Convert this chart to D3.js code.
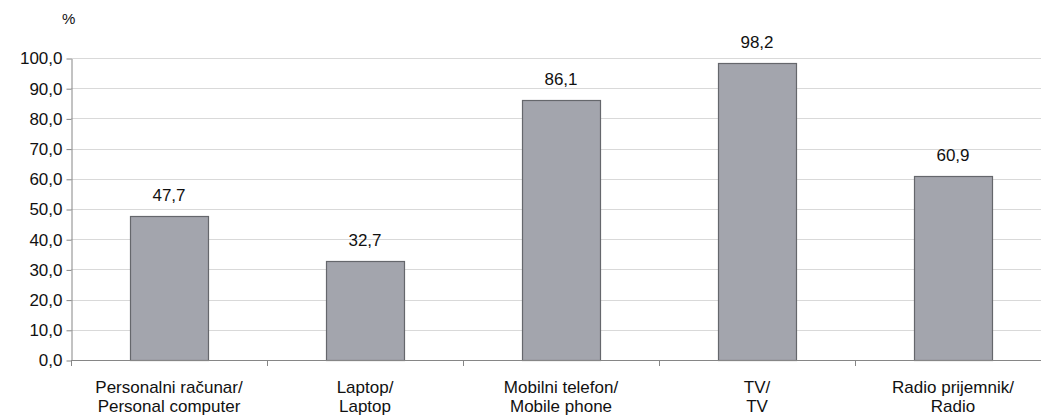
<!DOCTYPE html>
<html>
<head>
<meta charset="utf-8">
<script src="https://cdn.jsdelivr.net/npm/d3@7"></script>
<style>
  body { margin: 0; background: #fff; }
  text { font-family: "Liberation Sans", Arial, sans-serif; fill: #111; }
</style>
</head>
<body>
<div id="chart"></div>
<script>
  // categories (two lines each) and values, in %
  var categories = [
    ["Personalni računar/", "Personal computer"],
    ["Laptop/", "Laptop"],
    ["Mobilni telefon/", "Mobile phone"],
    ["TV/", "TV"],
    ["Radio prijemnik/", "Radio"]
  ];
  var values = [47.7, 32.7, 86.1, 98.2, 60.9];
  var yTicks = [0, 10, 20, 30, 40, 50, 60, 70, 80, 90, 100];

  var width = 1041, height = 420;
  var padLeft = 71, padTop = 58, baseY = 360;
  var band = 196;

  var fmt = function(v) { return v.toFixed(1).replace(".", ","); };

  var svg = d3.select("#chart").append("svg")
              .attr("width", width)
              .attr("height", height);

  var x = d3.scaleBand()
            .domain(d3.range(categories.length))
            .range([padLeft, padLeft + band * categories.length])
            .paddingInner(0.6)
            .paddingOuter(0.3);

  var y = d3.scaleLinear().domain([0, 100]).range([baseY, padTop]);

  // gridlines
  svg.append("g").selectAll("line")
     .data(yTicks.filter(function(d) { return d > 0; }))
     .enter().append("line")
     .attr("x1", padLeft).attr("x2", width)
     .attr("y1", function(d) { return Math.round(y(d)) + 0.5; })
     .attr("y2", function(d) { return Math.round(y(d)) + 0.5; })
     .attr("stroke", "#d9d9d9")
     .attr("stroke-width", 1);

  // y axis
  var yAxis = svg.append("g")
                 .attr("transform", "translate(" + (padLeft + 0.5) + ",0.5)")
                 .call(d3.axisLeft(y).tickValues(yTicks).tickFormat(fmt).tickSizeInner(5).tickSizeOuter(0));
  yAxis.select(".domain").attr("stroke", "#868686");
  yAxis.selectAll(".tick line").attr("stroke", "#868686");
  yAxis.selectAll(".tick text").attr("x", -9).attr("font-size", "17px")
       .attr("font-family", "Liberation Sans, Arial, sans-serif").attr("fill", "#111");

  // bars
  svg.append("g").selectAll("rect")
     .data(values)
     .enter().append("rect")
     .attr("x", function(d, i) { return Math.round(x(i)) + 0.5; })
     .attr("y", function(d) { return Math.round(y(d)) + 0.5; })
     .attr("width", Math.round(x.bandwidth()))
     .attr("height", function(d) { return baseY - Math.round(y(d)); })
     .attr("fill", "#a3a5ad")
     .attr("stroke", "#65676c")
     .attr("stroke-width", 1.2);

  // value labels
  svg.append("g").selectAll("text")
     .data(values)
     .enter().append("text")
     .attr("x", function(d, i) { return x(i) + x.bandwidth() / 2; })
     .attr("y", function(d) { return y(d) - 15; })
     .attr("text-anchor", "middle")
     .attr("font-size", "17px")
     .text(fmt);

  // x axis
  var xAxisLine = svg.append("g");
  xAxisLine.append("line")
     .attr("x1", padLeft).attr("x2", width)
     .attr("y1", baseY + 0.5).attr("y2", baseY + 0.5)
     .attr("stroke", "#868686");
  xAxisLine.selectAll(".xt")
     .data(d3.range(categories.length + 1))
     .enter().append("line")
     .attr("class", "xt")
     .attr("x1", function(i) { return padLeft + band * i + 0.5; })
     .attr("x2", function(i) { return padLeft + band * i + 0.5; })
     .attr("y1", baseY).attr("y2", baseY + 6)
     .attr("stroke", "#868686");

  var xl = svg.append("g").selectAll("text")
     .data(categories)
     .enter().append("text")
     .attr("text-anchor", "middle")
     .attr("font-size", "17px")
     .attr("transform", function(d, i) { return "translate(" + (x(i) + x.bandwidth() / 2) + ",0)"; });
  xl.selectAll("tspan")
     .data(function(d) { return d; })
     .enter().append("tspan")
     .attr("x", 0)
     .attr("y", function(d, j) { return 393 + j * 19; })
     .text(function(d) { return d; });

  svg.append("text")
     .attr("x", 62).attr("y", 24)
     .attr("font-size", "15px")
     .text("%");
</script>
</body>
</html>
